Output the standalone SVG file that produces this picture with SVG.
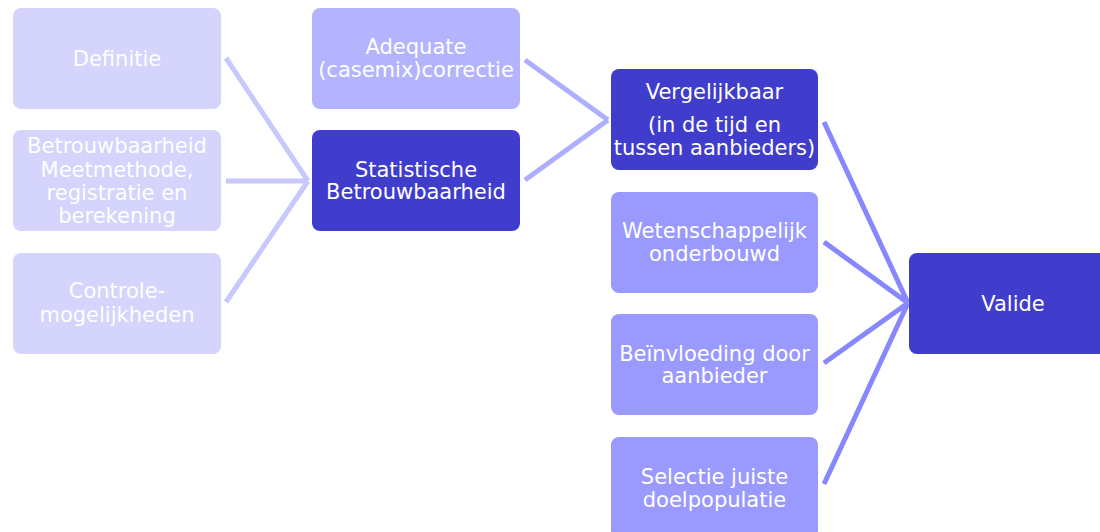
<svg xmlns="http://www.w3.org/2000/svg" width="1100" height="532" viewBox="0 0 1100 532">
<style>
text{font-family:"DejaVu Sans","Verdana",sans-serif;font-size:21px;fill:#ffffff;text-anchor:middle}
.c1{fill:#d4d4fd}
.c2{fill:#b4b4fe}
.c3{fill:#9a9afe}
.dk{fill:#403ccc}
.l1{stroke:#c8c8fd;stroke-width:5;fill:none}
.l2{stroke:#aeaefe;stroke-width:5;fill:none}
.l3{stroke:#8787fe;stroke-width:5;fill:none}
</style>
<rect width="1100" height="532" fill="#ffffff"/>
<g id="connectors">
<path class="l1" d="M226,58 L308,181 M226,181 L308,181 M226,302 L308,181"/>
<path class="l2" d="M525,60 L608,120 M525,180 L608,120"/>
<path class="l3" d="M824,122 L908,303 M824,242 L908,303 M824,363 L908,303 M824,484 L908,303"/>
</g>
<g id="definitie"><rect class="c1" x="13" y="8" width="208" height="101" rx="8"/><text x="117" y="66">Definitie</text></g>
<g id="betrouwbaarheid-meetmethode"><rect class="c1" x="13" y="130" width="208" height="101" rx="8"/><text x="117" y="153">Betrouwbaarheid</text><text x="117" y="177">Meetmethode,</text><text x="117" y="200">registratie en</text><text x="117" y="223">berekening</text></g>
<g id="controle"><rect class="c1" x="13" y="253" width="208" height="101" rx="8"/><text x="117" y="298">Controle-</text><text x="117" y="322">mogelijkheden</text></g>
<g id="adequate"><rect class="c2" x="312" y="8" width="208" height="101" rx="8"/><text x="416" y="54">Adequate</text><text x="416" y="77">(casemix)correctie</text></g>
<g id="statistische"><rect class="dk" x="312" y="130" width="208" height="101" rx="8"/><text x="416" y="177">Statistische</text><text x="416" y="199">Betrouwbaarheid</text></g>
<g id="vergelijkbaar"><rect class="dk" x="611" y="69" width="207" height="101" rx="8"/><text x="714.5" y="99">Vergelijkbaar</text><text x="714.5" y="132">(in de tijd en</text><text x="714.5" y="155">tussen aanbieders)</text></g>
<g id="wetenschappelijk"><rect class="c3" x="611" y="192" width="207" height="101" rx="8"/><text x="714.5" y="238">Wetenschappelijk</text><text x="714.5" y="261">onderbouwd</text></g>
<g id="beinvloeding"><rect class="c3" x="611" y="314" width="207" height="101" rx="8"/><text x="714.5" y="361">Beïnvloeding door</text><text x="714.5" y="383">aanbieder</text></g>
<g id="selectie"><rect class="c3" x="611" y="437" width="207" height="101" rx="8"/><text x="714.5" y="484">Selectie juiste</text><text x="714.5" y="507">doelpopulatie</text></g>
<g id="valide"><rect class="dk" x="909" y="253" width="208" height="101" rx="8"/><text x="1013" y="311">Valide</text></g>
</svg>
